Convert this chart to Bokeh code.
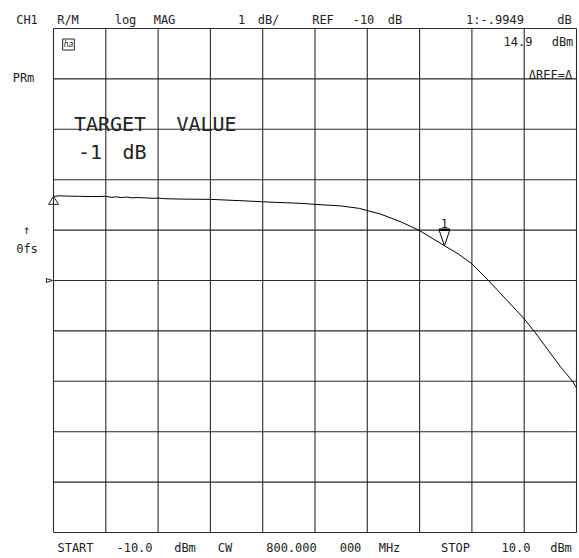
import numpy as np
from bokeh.plotting import figure
from bokeh.models import Range1d, Label
from bokeh.embed import file_html
from bokeh.resources import INLINE

# ---- data (power sweep, dBm -> log MAG, dB) ----
trace_x = [-10.0, -9.75, -9.5, -9.0, -8.5, -8.0, -7.8, -7.6, -7.4, -7.2, -7.0, -6.8,
           -6.5, -6.2, -6.0, -5.8, -5.5, -5.1, -4.0, -2.7, -1.5, -0.5, 0.0, 1.0, 1.7,
           2.05, 2.5, 3.3, 4.0, 4.95, 5.5, 6.0, 6.6, 7.3, 8.0, 8.4, 9.4, 9.85, 10.0]
trace_y = [-8.33, -8.32, -8.325, -8.33, -8.335, -8.33, -8.35, -8.34, -8.355, -8.345,
           -8.36, -8.355, -8.36, -8.37, -8.365, -8.375, -8.38, -8.385, -8.39, -8.42,
           -8.45, -8.47, -8.49, -8.52, -8.57, -8.62, -8.68, -8.84, -9.01, -9.31,
           -9.48, -9.67, -9.98, -10.37, -10.76, -11.02, -11.72, -12.0, -12.13]
x_ticks = [-10, -8, -6, -4, -2, 0, 2, 4, 6, 8, 10]
y_ticks = [-15, -14, -13, -12, -11, -10, -9, -8, -7, -6, -5]
ref_level = -10
marker_x = 4.95
marker_delta = -0.9949

# words and their centre positions (screen px of the instrument display)
header_words = [("CH1", 26.5), ("R/M", 67.5), ("log", 125), ("MAG", 164), ("1", 241),
                ("dB/", 268), ("REF", 322.5), ("-10", 363), ("dB", 394.5),
                ("1:-.9949", 494.5), ("dB", 564)]
footer_words = [("START", 75), ("-10.0", 134), ("dBm", 184.5), ("CW", 224.5),
                ("800.000", 291), ("000", 350), ("MHz", 389), ("STOP", 455),
                ("10.0", 515.5), ("dBm", 560.5)]
side_words = [("PRm", 23, 77), ("\u2191", 26, 229), ("0fs", 26.5, 248),
              ("14.9", 517.5, 41), ("dBm", 562, 41), ("\u0394REF=\u0394", 550, 74)]
big_words = [("TARGET", 109.5, 123), ("VALUE", 206, 123), ("-1", 89.5, 151), ("dB", 134, 151)]

FONT = "DejaVu Sans Mono"
INK = "#222222"

W, H = 579, 558
# screen layout of the reference: grid box from (53, 28) to (576, 532)
def dx(px):
    return -10 + (px - 53) / 523 * 20
def dy(py):
    return -5 - (py - 28) / 50.4
PX_X = 20 / 523
PX_Y = 1 / 50.4

p = figure(width=W, height=H, x_range=Range1d(dx(0), dx(W)), y_range=Range1d(dy(H), dy(0)),
           output_backend="svg", toolbar_location=None,
           min_border=0, min_border_left=0, min_border_right=0,
           min_border_top=0, min_border_bottom=0)
p.axis.visible = False
p.grid.visible = False
p.outline_line_color = None
p.background_fill_color = "white"
p.border_fill_color = "white"

def lab(text, px, py, size="12px", align="center", baseline="alphabetic", **kw):
    p.add_layout(Label(x=dx(px), y=dy(py), text=text, text_font=FONT,
                       text_font_size=size, text_color=INK, text_align=align,
                       text_baseline=baseline, **kw))

# graticule
n_x, n_y = len(x_ticks), len(y_ticks)
p.segment(x_ticks, [y_ticks[0]] * n_x, x_ticks, [y_ticks[-1]] * n_x,
          line_color="#2a2a2a", line_width=1.1)
p.segment([x_ticks[0]] * n_y, y_ticks, [x_ticks[-1]] * n_y, y_ticks,
          line_color="#2a2a2a", line_width=1.1)

# trace
p.line(trace_x, trace_y, line_color="black", line_width=1)

# reference marker (delta) at start of trace
x0, y0 = trace_x[0], trace_y[0]
p.patch([x0 - 5 * PX_X, x0 + 5 * PX_X, x0], [y0 - 8 * PX_Y, y0 - 8 * PX_Y, y0],
        fill_color=None, line_color=INK, line_width=1)

# reference position indicator on the left edge
xl = x_ticks[0]
p.patch([xl - 7 * PX_X, xl - 7 * PX_X, xl - 1 * PX_X],
        [ref_level + 2 * PX_Y, ref_level - 2 * PX_Y, ref_level],
        fill_color=None, line_color=INK, line_width=1)

# marker 1
my = float(np.interp(marker_x, trace_x, trace_y))
mw = 5.5 * PX_X
mh = 16 * PX_Y
p.patch([marker_x - mw, marker_x + mw, marker_x], [my + mh, my + mh, my],
        fill_color=None, line_color="black", line_width=1)
p.segment([marker_x - mw], [my + mh], [marker_x + mw], [my + mh],
          line_color="black", line_width=2.5)
p.add_layout(Label(x=marker_x, y=my + mh + 2 * PX_Y, text="1", text_font=FONT,
                   text_font_size="12px", text_color=INK, text_align="center",
                   text_baseline="bottom"))

for t, px in header_words:
    lab(t, px, 19)
for t, px in footer_words:
    lab(t, px, 547)
for t, px, py in side_words:
    lab(t, px, py)
for t, px, py in big_words:
    lab(t, px, py, size="20px")

# small annotation box
lab("ha", 68, 44, size="8px", border_line_color="#222222", background_fill_color="white",
    text_font_style="italic", padding=1)

open("out.html", "w").write(file_html(p, INLINE))
